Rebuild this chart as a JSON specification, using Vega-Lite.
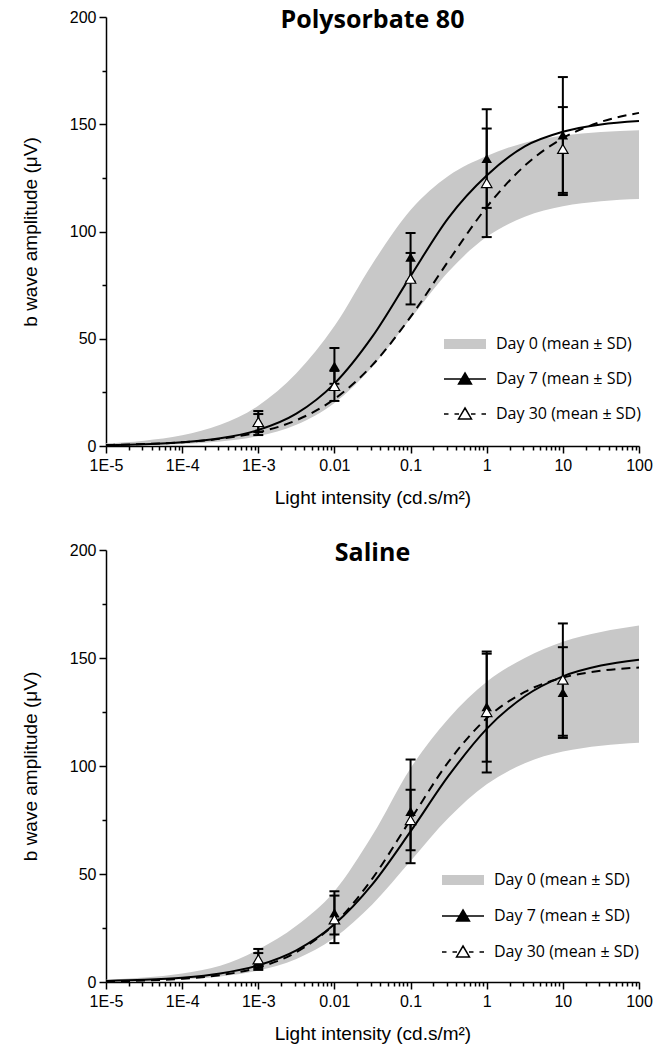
{
  "$schema": "https://vega.github.io/schema/vega-lite/v6.json",
  "padding": {"left": 21, "top": 8, "right": 5, "bottom": 5},
  "background": "white",
  "config": {
    "view": {"stroke": null},
    "font": "Liberation Sans",
    "axis": {
      "domainColor": "black", "domainWidth": 1.5, "tickColor": "black", "tickWidth": 1.5,
      "labelColor": "black", "labelFont": "Liberation Sans", "labelFontSize": 16,
      "titleColor": "black", "titleFont": "Liberation Sans", "titleFontSize": 19, "titleFontWeight": "normal",
      "grid": false
    },
    "legend": {"padding": 0}
  },
  "datasets": {
    "curves_p": [
      {"x": 1e-5, "lo": 0.19, "hi": 1.23, "day7": 0.37, "day30": 0.46},
      {"x": 3.162e-5, "lo": 0.43, "hi": 2.49, "day7": 0.8, "day30": 0.89},
      {"x": 1e-4, "lo": 0.96, "hi": 4.99, "day7": 1.7, "day30": 1.73},
      {"x": 3.162e-4, "lo": 2.12, "hi": 9.85, "day7": 3.58, "day30": 3.35},
      {"x": 0.001, "lo": 4.65, "hi": 18.8, "day7": 7.47, "day30": 6.4},
      {"x": 0.003162, "lo": 9.92, "hi": 33.9, "day7": 15.1, "day30": 12.0},
      {"x": 0.01, "lo": 20.1, "hi": 55.9, "day7": 29.1, "day30": 21.9},
      {"x": 0.03162, "lo": 37.0, "hi": 85, "day7": 51.1, "day30": 37.8},
      {"x": 0.1, "lo": 59.4, "hi": 110, "day7": 79.2, "day30": 60.2},
      {"x": 0.3162, "lo": 81.4, "hi": 126, "day7": 106.5, "day30": 86.4},
      {"x": 1, "lo": 97.5, "hi": 135.2, "day7": 126.1, "day30": 111.4},
      {"x": 3.162, "lo": 106.9, "hi": 141.4, "day7": 139.7, "day30": 130.7},
      {"x": 10, "lo": 111.8, "hi": 144.7, "day7": 146.5, "day30": 143.5},
      {"x": 31.62, "lo": 114.1, "hi": 146.4, "day7": 149.9, "day30": 151.1},
      {"x": 100, "lo": 115.1, "hi": 147.2, "day7": 151.5, "day30": 155.3}
    ],
    "curves_s": [
      {"x": 1e-5, "lo": 0.28, "hi": 1.05, "day7": 0.51, "day30": 0.32},
      {"x": 3.162e-5, "lo": 0.59, "hi": 2.04, "day7": 1.02, "day30": 0.69},
      {"x": 1e-4, "lo": 1.24, "hi": 3.92, "day7": 2.01, "day30": 1.49},
      {"x": 3.162e-4, "lo": 2.59, "hi": 7.49, "day7": 3.97, "day30": 3.18},
      {"x": 0.001, "lo": 5.34, "hi": 15, "day7": 7.72, "day30": 6.72},
      {"x": 0.003162, "lo": 10.7, "hi": 26, "day7": 14.65, "day30": 13.8},
      {"x": 0.01, "lo": 20.5, "hi": 42, "day7": 26.7, "day30": 26.9},
      {"x": 0.03162, "lo": 36.0, "hi": 68, "day7": 45.3, "day30": 48.0},
      {"x": 0.1, "lo": 56.0, "hi": 99, "day7": 69.7, "day30": 75.2},
      {"x": 0.3162, "lo": 76.0, "hi": 122, "day7": 95.5, "day30": 102.0},
      {"x": 1, "lo": 91.5, "hi": 139, "day7": 117.2, "day30": 122.1},
      {"x": 3.162, "lo": 101.3, "hi": 150, "day7": 132.3, "day30": 134.3},
      {"x": 10, "lo": 106.7, "hi": 157.5, "day7": 141.5, "day30": 140.9},
      {"x": 31.62, "lo": 109.4, "hi": 162, "day7": 146.5, "day30": 144.1},
      {"x": 100, "lo": 110.8, "hi": 165, "day7": 149.2, "day30": 145.6}
    ],
    "pts_p": [
      {"x": 0.001, "day": "Day 7", "m": 11.5, "lo": 6.5, "hi": 16.3},
      {"x": 0.01, "day": "Day 7", "m": 37.3, "lo": 29, "hi": 45.7},
      {"x": 0.1, "day": "Day 7", "m": 88, "lo": 76.7, "hi": 99.3},
      {"x": 1, "day": "Day 7", "m": 134, "lo": 111, "hi": 157},
      {"x": 10, "day": "Day 7", "m": 145, "lo": 118, "hi": 172},
      {"x": 0.001, "day": "Day 30", "m": 11.2, "lo": 5.1, "hi": 14.9},
      {"x": 0.01, "day": "Day 30", "m": 28, "lo": 21, "hi": 35},
      {"x": 0.1, "day": "Day 30", "m": 78, "lo": 66, "hi": 90},
      {"x": 1, "day": "Day 30", "m": 122.6, "lo": 97.4, "hi": 148},
      {"x": 10, "day": "Day 30", "m": 138.5, "lo": 117, "hi": 158}
    ],
    "pts_s": [
      {"x": 0.001, "day": "Day 7", "m": 9.5, "lo": 5.6, "hi": 13.4},
      {"x": 0.01, "day": "Day 7", "m": 32, "lo": 22, "hi": 42},
      {"x": 0.1, "day": "Day 7", "m": 79, "lo": 55, "hi": 103},
      {"x": 1, "day": "Day 7", "m": 127.5, "lo": 102, "hi": 152},
      {"x": 10, "day": "Day 7", "m": 134, "lo": 113, "hi": 155},
      {"x": 0.001, "day": "Day 30", "m": 10.5, "lo": 6.5, "hi": 15.3},
      {"x": 0.01, "day": "Day 30", "m": 29, "lo": 18, "hi": 40},
      {"x": 0.1, "day": "Day 30", "m": 75, "lo": 61, "hi": 89},
      {"x": 1, "day": "Day 30", "m": 125, "lo": 97, "hi": 153},
      {"x": 10, "day": "Day 30", "m": 140, "lo": 114, "hi": 166}
    ]
  },
  "resolve": {"scale": {"fill": "independent"}},
  "spacing": 34,
  "vconcat": [
    {
      "width": 533, "height": 429,
      "title": {"text": "Polysorbate 80", "font": "Open Sans", "fontSize": 25, "fontWeight": 700, "color": "black", "anchor": "middle", "frame": "group", "baseline": "top", "offset": -24},
      "resolve": {"axis": {"x": "independent", "y": "independent"}},
      "layer": [
        {
          "data": {"name": "curves_p"},
          "mark": {"type": "area", "interpolate": "monotone"},
          "encoding": {
            "x": {"field": "x", "type": "quantitative", "scale": {"type": "log", "domain": [1e-5, 100], "nice": false},
              "axis": {"orient": "bottom", "values": [1e-5, 1e-4, 0.001, 0.01, 0.1, 1, 10, 100], "labelExpr": "datum.value < 0.00005 ? '1E-5' : datum.value < 0.0005 ? '1E-4' : datum.value < 0.005 ? '1E-3' : format(datum.value, '~g')", "title": "Light intensity (cd.s/m²)", "tickSize": 7, "labelPadding": 4, "titlePadding": 15, "labelFlush": false, "labelOverlap": false}},
            "y": {"field": "lo", "type": "quantitative", "scale": {"domain": [0, 200], "nice": false},
              "axis": {"orient": "left", "values": [0, 50, 100, 150, 200], "title": "b wave amplitude (μV)", "tickSize": 7, "labelPadding": 3, "titlePadding": 29}},
            "y2": {"field": "hi"},
            "fill": {"datum": "Day 0 (mean ± SD)", "type": "nominal",
              "scale": {"domain": ["Day 0 (mean ± SD)", "Day 7 (mean ± SD)", "Day 30 (mean ± SD)"], "range": ["#c8c8c8", "black", "white"]},
              "legend": {"orient": "none", "legendX": 343, "legendY": 311, "title": null, "symbolSize": 900, "labelOffset": 15, "rowPadding": 11, "labelFont": "Open Sans", "labelFontSize": 16, "labelColor": "black",
                "encode": {"symbols": {"update": {
                  "shape": {"signal": "datum.value === 'Day 0 (mean ± SD)' ? 'M-1.4,-0.33H1.4V0.33H-1.4Z' : datum.value === 'Day 7 (mean ± SD)' ? 'M-1.4,0H1.4M0,-0.4L0.43,0.33L-0.43,0.33Z' : 'M-1.4,0H-1.1M-0.7,0H-0.4M0.4,0H0.7M1.1,0H1.4M0,-0.4L0.43,0.33L-0.43,0.33Z'"},
                  "fill": {"signal": "datum.value === 'Day 0 (mean ± SD)' ? '#c8c8c8' : datum.value === 'Day 7 (mean ± SD)' ? 'black' : 'white'"},
                  "stroke": {"signal": "datum.value === 'Day 0 (mean ± SD)' ? 'transparent' : 'black'"},
                  "strokeWidth": {"value": 1.5},
                  "opacity": {"value": 1}, "fillOpacity": {"value": 1}, "strokeOpacity": {"value": 1}
                }}}}
            }
          }
        },
        {
          "data": {"name": "curves_p"},
          "mark": {"type": "line", "interpolate": "monotone", "color": "black", "strokeWidth": 2},
          "encoding": {
            "x": {"field": "x", "type": "quantitative", "axis": {"orient": "bottom", "values": [2e-5,3e-5,4e-5,5e-5,6e-5,7e-5,8e-5,9e-5,2e-4,3e-4,4e-4,5e-4,6e-4,7e-4,8e-4,9e-4,0.002,0.003,0.004,0.005,0.006,0.007,0.008,0.009,0.02,0.03,0.04,0.05,0.06,0.07,0.08,0.09,0.2,0.3,0.4,0.5,0.6,0.7,0.8,0.9,2,3,4,5,6,7,8,9,20,30,40,50,60,70,80,90], "labels": false, "domain": false, "tickSize": 4, "title": null}},
            "y": {"field": "day7", "type": "quantitative", "axis": {"orient": "left", "values": [25, 75, 125, 175], "labels": false, "domain": false, "tickSize": 4, "title": null}}
          }
        },
        {
          "data": {"name": "curves_p"},
          "mark": {"type": "line", "interpolate": "monotone", "color": "black", "strokeWidth": 2, "strokeDash": [9, 6]},
          "encoding": {
            "x": {"field": "x", "type": "quantitative", "axis": null},
            "y": {"field": "day30", "type": "quantitative", "axis": null}
          }
        },
        {
          "data": {"name": "pts_p"},
          "mark": {"type": "rule", "color": "black", "strokeWidth": 2},
          "encoding": {
            "x": {"field": "x", "type": "quantitative", "axis": null},
            "y": {"field": "lo", "type": "quantitative", "axis": null},
            "y2": {"field": "hi"}
          }
        },
        {
          "data": {"name": "pts_p"},
          "mark": {"type": "tick", "orient": "horizontal", "color": "black", "size": 10, "thickness": 2, "opacity": 1},
          "encoding": {
            "x": {"field": "x", "type": "quantitative", "axis": null},
            "y": {"field": "lo", "type": "quantitative", "axis": null}
          }
        },
        {
          "data": {"name": "pts_p"},
          "mark": {"type": "tick", "orient": "horizontal", "color": "black", "size": 10, "thickness": 2, "opacity": 1},
          "encoding": {
            "x": {"field": "x", "type": "quantitative", "axis": null},
            "y": {"field": "hi", "type": "quantitative", "axis": null}
          }
        },
        {
          "data": {"name": "pts_p"},
          "transform": [{"filter": "datum.day === 'Day 7'"}],
          "mark": {"type": "point", "shape": "triangle-up", "filled": true, "color": "black", "size": 110, "opacity": 1},
          "encoding": {
            "x": {"field": "x", "type": "quantitative", "axis": null},
            "y": {"field": "m", "type": "quantitative", "axis": null}
          }
        },
        {
          "data": {"name": "pts_p"},
          "transform": [{"filter": "datum.day === 'Day 30'"}],
          "mark": {"type": "point", "shape": "triangle-up", "filled": true, "fill": "white", "stroke": "black", "strokeWidth": 1.2, "size": 110, "opacity": 1},
          "encoding": {
            "x": {"field": "x", "type": "quantitative", "axis": null},
            "y": {"field": "m", "type": "quantitative", "axis": null}
          }
        }
      ]
    },
    {
      "width": 533, "height": 432,
      "title": {"text": "Saline", "font": "Open Sans", "fontSize": 25, "fontWeight": 700, "color": "black", "anchor": "middle", "frame": "group", "baseline": "top", "offset": -24},
      "resolve": {"axis": {"x": "independent", "y": "independent"}},
      "layer": [
        {
          "data": {"name": "curves_s"},
          "mark": {"type": "area", "interpolate": "monotone"},
          "encoding": {
            "x": {"field": "x", "type": "quantitative", "scale": {"type": "log", "domain": [1e-5, 100], "nice": false},
              "axis": {"orient": "bottom", "values": [1e-5, 1e-4, 0.001, 0.01, 0.1, 1, 10, 100], "labelExpr": "datum.value < 0.00005 ? '1E-5' : datum.value < 0.0005 ? '1E-4' : datum.value < 0.005 ? '1E-3' : format(datum.value, '~g')", "title": "Light intensity (cd.s/m²)", "tickSize": 7, "labelPadding": 4, "titlePadding": 15, "labelFlush": false, "labelOverlap": false}},
            "y": {"field": "lo", "type": "quantitative", "scale": {"domain": [0, 200], "nice": false},
              "axis": {"orient": "left", "values": [0, 50, 100, 150, 200], "title": "b wave amplitude (μV)", "tickSize": 7, "labelPadding": 3, "titlePadding": 29}},
            "y2": {"field": "hi"},
            "fill": {"datum": "Day 0 (mean ± SD)", "type": "nominal",
              "scale": {"domain": ["Day 0 (mean ± SD)", "Day 7 (mean ± SD)", "Day 30 (mean ± SD)"], "range": ["#c8c8c8", "black", "white"]},
              "legend": {"orient": "none", "legendX": 341, "legendY": 314, "title": null, "symbolSize": 900, "labelOffset": 15, "rowPadding": 12, "labelFont": "Open Sans", "labelFontSize": 16, "labelColor": "black",
                "encode": {"symbols": {"update": {
                  "shape": {"signal": "datum.value === 'Day 0 (mean ± SD)' ? 'M-1.4,-0.33H1.4V0.33H-1.4Z' : datum.value === 'Day 7 (mean ± SD)' ? 'M-1.4,0H1.4M0,-0.4L0.43,0.33L-0.43,0.33Z' : 'M-1.4,0H-1.1M-0.7,0H-0.4M0.4,0H0.7M1.1,0H1.4M0,-0.4L0.43,0.33L-0.43,0.33Z'"},
                  "fill": {"signal": "datum.value === 'Day 0 (mean ± SD)' ? '#c8c8c8' : datum.value === 'Day 7 (mean ± SD)' ? 'black' : 'white'"},
                  "stroke": {"signal": "datum.value === 'Day 0 (mean ± SD)' ? 'transparent' : 'black'"},
                  "strokeWidth": {"value": 1.5},
                  "opacity": {"value": 1}, "fillOpacity": {"value": 1}, "strokeOpacity": {"value": 1}
                }}}}
            }
          }
        },
        {
          "data": {"name": "curves_s"},
          "mark": {"type": "line", "interpolate": "monotone", "color": "black", "strokeWidth": 2},
          "encoding": {
            "x": {"field": "x", "type": "quantitative", "axis": {"orient": "bottom", "values": [2e-5,3e-5,4e-5,5e-5,6e-5,7e-5,8e-5,9e-5,2e-4,3e-4,4e-4,5e-4,6e-4,7e-4,8e-4,9e-4,0.002,0.003,0.004,0.005,0.006,0.007,0.008,0.009,0.02,0.03,0.04,0.05,0.06,0.07,0.08,0.09,0.2,0.3,0.4,0.5,0.6,0.7,0.8,0.9,2,3,4,5,6,7,8,9,20,30,40,50,60,70,80,90], "labels": false, "domain": false, "tickSize": 4, "title": null}},
            "y": {"field": "day7", "type": "quantitative", "axis": {"orient": "left", "values": [25, 75, 125, 175], "labels": false, "domain": false, "tickSize": 4, "title": null}}
          }
        },
        {
          "data": {"name": "curves_s"},
          "mark": {"type": "line", "interpolate": "monotone", "color": "black", "strokeWidth": 2, "strokeDash": [9, 6]},
          "encoding": {
            "x": {"field": "x", "type": "quantitative", "axis": null},
            "y": {"field": "day30", "type": "quantitative", "axis": null}
          }
        },
        {
          "data": {"name": "pts_s"},
          "mark": {"type": "rule", "color": "black", "strokeWidth": 2},
          "encoding": {
            "x": {"field": "x", "type": "quantitative", "axis": null},
            "y": {"field": "lo", "type": "quantitative", "axis": null},
            "y2": {"field": "hi"}
          }
        },
        {
          "data": {"name": "pts_s"},
          "mark": {"type": "tick", "orient": "horizontal", "color": "black", "size": 10, "thickness": 2, "opacity": 1},
          "encoding": {
            "x": {"field": "x", "type": "quantitative", "axis": null},
            "y": {"field": "lo", "type": "quantitative", "axis": null}
          }
        },
        {
          "data": {"name": "pts_s"},
          "mark": {"type": "tick", "orient": "horizontal", "color": "black", "size": 10, "thickness": 2, "opacity": 1},
          "encoding": {
            "x": {"field": "x", "type": "quantitative", "axis": null},
            "y": {"field": "hi", "type": "quantitative", "axis": null}
          }
        },
        {
          "data": {"name": "pts_s"},
          "transform": [{"filter": "datum.day === 'Day 7'"}],
          "mark": {"type": "point", "shape": "triangle-up", "filled": true, "color": "black", "size": 110, "opacity": 1},
          "encoding": {
            "x": {"field": "x", "type": "quantitative", "axis": null},
            "y": {"field": "m", "type": "quantitative", "axis": null}
          }
        },
        {
          "data": {"name": "pts_s"},
          "transform": [{"filter": "datum.day === 'Day 30'"}],
          "mark": {"type": "point", "shape": "triangle-up", "filled": true, "fill": "white", "stroke": "black", "strokeWidth": 1.2, "size": 110, "opacity": 1},
          "encoding": {
            "x": {"field": "x", "type": "quantitative", "axis": null},
            "y": {"field": "m", "type": "quantitative", "axis": null}
          }
        }
      ]
    }
  ]
}
